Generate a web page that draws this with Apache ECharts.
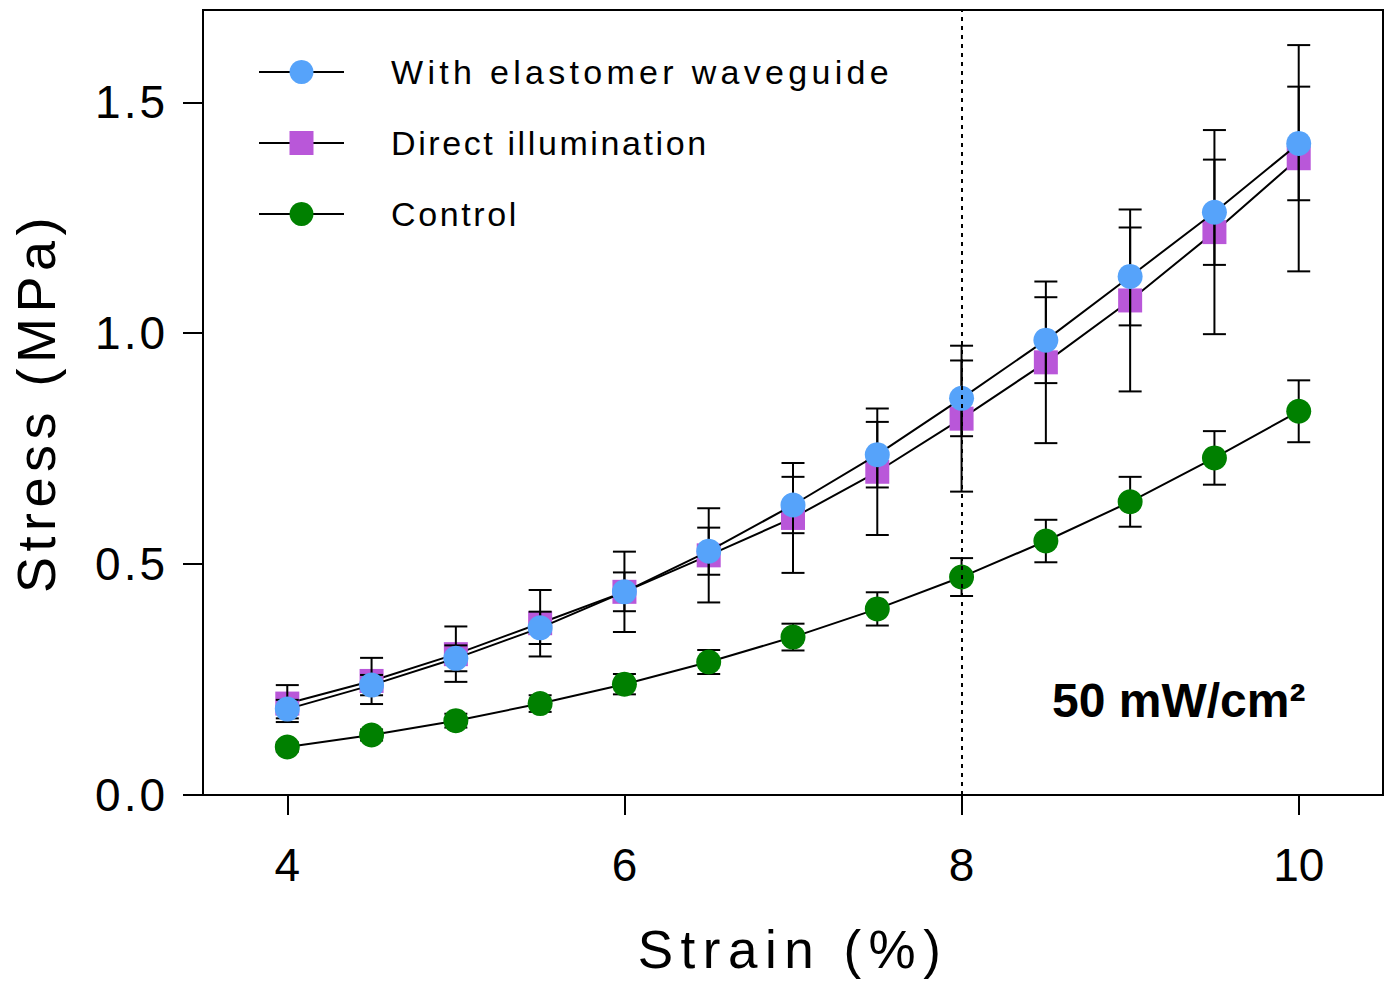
<!DOCTYPE html>
<html>
<head>
<meta charset="utf-8">
<script src="https://cdn.jsdelivr.net/npm/echarts@6/dist/echarts.min.js"></script>
<style>
html,body{margin:0;padding:0;background:#fff;}
#chart{width:1395px;height:981px;}
</style>
</head>
<body>
<div id="chart"></div>
<script>
const strain = [4, 4.5, 5, 5.5, 6, 6.5, 7, 7.5, 8, 8.5, 9, 9.5, 10];
const waveguide = [0.186, 0.238, 0.296, 0.362, 0.440, 0.528, 0.628, 0.737, 0.859, 0.985, 1.123, 1.262, 1.411];
const waveguideErr = [0.020, 0.022, 0.028, 0.035, 0.042, 0.051, 0.061, 0.071, 0.082, 0.093, 0.106, 0.114, 0.123];
const direct = [0.198, 0.247, 0.305, 0.372, 0.440, 0.519, 0.600, 0.700, 0.815, 0.937, 1.071, 1.219, 1.379];
const directErr = [0.040, 0.050, 0.060, 0.072, 0.087, 0.102, 0.119, 0.137, 0.158, 0.175, 0.197, 0.221, 0.245];
const control = [0.104, 0.130, 0.161, 0.198, 0.240, 0.288, 0.342, 0.403, 0.472, 0.550, 0.635, 0.730, 0.831];
const controlErr = [0.010, 0.012, 0.015, 0.018, 0.022, 0.026, 0.029, 0.036, 0.041, 0.046, 0.054, 0.058, 0.067];
const xTicks = [4, 6, 8, 10];
const yTicks = [0, 0.5, 1.0, 1.5];
const seriesNames = ['With elastomer waveguide', 'Direct illumination', 'Control'];
const xTitle = 'Strain (%)';
const yTitle = 'Stress (MPa)';
const noteText = '50 mW/cm²';
const vLineAt = 8;

const FONT = 'Liberation Sans, Arial, sans-serif';
const chart = echarts.init(document.getElementById('chart'), null, {renderer: 'svg'});

function pairs(ys) { return strain.map((x, i) => [x, ys[i]]); }
function errData(ys, es) { return strain.map((x, i) => [x, ys[i], es[i]]); }

function errRender(params, api) {
  const x = api.value(0), y = api.value(1), e = api.value(2);
  const top = api.coord([x, y + e]);
  const bot = api.coord([x, y - e]);
  const hw = 11.5;
  const style = {stroke: '#000', lineWidth: 2, fill: null};
  return {
    type: 'group',
    children: [
      {type: 'line', shape: {x1: top[0], y1: top[1], x2: bot[0], y2: bot[1]}, style: style},
      {type: 'line', shape: {x1: top[0] - hw, y1: top[1], x2: top[0] + hw, y2: top[1]}, style: style},
      {type: 'line', shape: {x1: bot[0] - hw, y1: bot[1], x2: bot[0] + hw, y2: bot[1]}, style: style}
    ]
  };
}

const option = {
  backgroundColor: '#fff',
  animation: false,
  textStyle: {fontFamily: FONT, color: '#000'},
  grid: {
    left: 203, top: 10, right: 12, bottom: 186,
    outerBoundsMode: 'none',
    containLabel: false,
    show: true, borderColor: '#000', borderWidth: 2, backgroundColor: 'transparent'
  },
  legend: {
    orient: 'vertical',
    left: 258, top: 46,
    padding: 0,
    itemWidth: 85, itemHeight: 30,
    itemGap: 19,
    data: seriesNames,
    textStyle: {fontFamily: FONT, fontSize: 34, color: '#000', lineHeight: 40, padding: [12, 0, 0, 42]}
  },
  xAxis: {
    type: 'value',
    min: 3.5, max: 10.5,
    name: xTitle,
    nameLocation: 'middle',
    nameGap: 130,
    nameTextStyle: {fontFamily: FONT, fontSize: 53, lineHeight: 48, color: '#000'},
    axisLine: {show: true, lineStyle: {color: '#000', width: 2}},
    axisTick: {show: true, inside: false, length: 20, lineStyle: {color: '#000', width: 2}, customValues: xTicks},
    axisLabel: {show: true, margin: 47, fontSize: 46, color: '#000', fontFamily: FONT, customValues: xTicks},
    splitLine: {show: false}
  },
  yAxis: {
    type: 'value',
    min: 0, max: 1.7,
    name: yTitle,
    nameLocation: 'middle',
    nameGap: 140,
    nameRotate: 90,
    nameTextStyle: {fontFamily: FONT, fontSize: 54, color: '#000'},
    axisLine: {show: true, lineStyle: {color: '#000', width: 2}},
    axisTick: {show: true, inside: false, length: 20, lineStyle: {color: '#000', width: 2}, customValues: yTicks},
    axisLabel: {show: true, margin: 35, fontSize: 46, color: '#000', fontFamily: FONT, customValues: yTicks,
      formatter: v => Number(v).toFixed(1)},
    splitLine: {show: false}
  },
  graphic: [{
    type: 'text',
    left: 1052, top: 676,
    style: {text: noteText, font: 'bold 48px ' + FONT, fill: '#000'}
  }],
  series: [
    {
      name: seriesNames[1], type: 'line', data: pairs(direct), z: 2,
      symbol: 'rect', symbolSize: 24,
      itemStyle: {color: '#B957D9'},
      lineStyle: {color: '#000', width: 2},
      emphasis: {disabled: true}
    },
    {
      name: 'err-direct', type: 'custom', renderItem: errRender, data: errData(direct, directErr), z: 3,
      encode: {x: 0, y: 1}
    },
    {
      name: 'err-waveguide', type: 'custom', renderItem: errRender, data: errData(waveguide, waveguideErr), z: 3,
      encode: {x: 0, y: 1}
    },
    {
      name: 'err-control', type: 'custom', renderItem: errRender, data: errData(control, controlErr), z: 3,
      encode: {x: 0, y: 1}
    },
    {
      name: seriesNames[0], type: 'line', data: pairs(waveguide), z: 4,
      symbol: 'circle', symbolSize: 25,
      itemStyle: {color: '#56A3FA'},
      lineStyle: {color: '#000', width: 2},
      emphasis: {disabled: true},
      markLine: {
        silent: true, symbol: 'none', animation: false,
        label: {show: false},
        lineStyle: {color: '#000', width: 2, type: [4, 5]},
        data: [{xAxis: vLineAt}]
      }
    },
    {
      name: seriesNames[2], type: 'line', data: pairs(control), z: 4,
      symbol: 'circle', symbolSize: 25,
      itemStyle: {color: '#008000'},
      lineStyle: {color: '#000', width: 2},
      emphasis: {disabled: true}
    }
  ]
};
chart.setOption(option);

// letter spacing to mimic the spaced-out typography of the original
function spacingFor(t) {
  if (t === seriesNames[0]) return 4.3;
  if (t === seriesNames[1] || t === seriesNames[2]) return 2.6;
  if (t === xTitle) return 7.5;
  if (t === yTitle) return 5.5;
  if (['0.0', '0.5', '1.0', '1.5'].indexOf(t) >= 0) return 3;
  return 0;
}
function applySpacing() {
  document.querySelectorAll('#chart svg text').forEach(function (el) {
    const s = spacingFor((el.textContent || '').trim());
    if (s) el.setAttribute('letter-spacing', s + 'px');
  });
}
applySpacing();
chart.on('finished', applySpacing);
</script>
</body>
</html>
